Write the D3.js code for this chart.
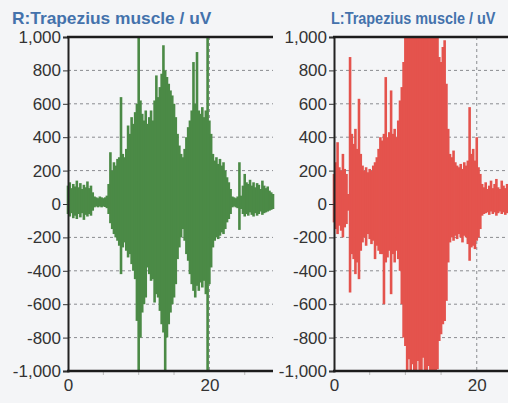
<!DOCTYPE html>
<html><head><meta charset="utf-8">
<script src="https://cdn.jsdelivr.net/npm/d3@7"></script>
<style>
html,body{margin:0;padding:0;background:#f4f5f7;}
svg{display:block;}
text{font-family:"Liberation Sans",Arial,sans-serif;}
</style></head><body><svg id="c" width="508" height="403"></svg>
<script>
// sampling step of the envelope (seconds)
const sampleStep = 0.25;
const timeDomain = [0, 29];
const yDomain = [-1000, 1000];

// R: Trapezius (green) — per-sample max / min (uV)
const greenHi = [110,130,95,120,105,140,100,125,90,115,100,135,95,110,70,45,40,35,45,40,35,40,50,120,
  310,200,250,230,270,280,640,300,280,330,470,420,520,480,550,600,1000,620,540,500,560,480,520,560,500,
  620,770,640,700,780,950,800,760,720,680,650,600,520,420,350,300,280,330,400,460,500,560,850,600,910,
  560,540,580,520,560,1000,500,420,300,260,280,240,270,230,250,200,160,130,90,45,40,35,45,250,50,110,
  180,130,120,145,110,130,100,125,115,90,140,110,95,105,80,70,60];
const greenLo = [-60,-75,-55,-85,-70,-90,-60,-80,-55,-95,-65,-75,-60,-70,-40,-20,-15,-20,-15,-20,-15,-18,-25,-60,
  -115,-150,-180,-200,-220,-250,-420,-260,-230,-280,-320,-300,-360,-400,-450,-700,-1000,-800,-650,-600,-560,-380,-420,-460,-450,
  -590,-540,-560,-640,-720,-770,-1000,-800,-720,-650,-600,-560,-480,-330,-260,-200,-150,-220,-300,-340,-420,-480,-520,-560,-490,
  -520,-470,-500,-460,-540,-1000,-480,-380,-260,-220,-200,-210,-190,-170,-180,-150,-110,-90,-60,-20,-15,-20,-25,-155,-30,-60,
  -75,-60,-70,-50,-65,-75,-55,-70,-60,-45,-65,-55,-50,-45,-40,-35,-30];

// L: Trapezius (red) — per-sample max / min (uV)
const redHi = [180,250,370,220,200,300,210,180,60,880,420,360,450,330,630,300,230,200,220,190,210,200,230,250,
  280,330,400,380,420,760,400,430,680,420,450,400,500,620,700,850,1000,1000,1000,1000,1000,1000,1000,1000,1000,
  1000,1000,1000,1000,1000,1000,1000,1000,1000,1000,880,850,940,980,720,450,300,280,320,250,230,220,240,210,250,
  230,260,580,300,330,260,400,220,180,120,100,130,90,110,140,95,120,150,100,90,140,110,95,120,100];
const redLo = [-110,-150,-180,-130,-160,-200,-140,-120,-40,-530,-300,-330,-420,-350,-450,-280,-230,-200,-250,-180,-210,-240,-220,-330,
  -250,-280,-300,-300,-600,-350,-320,-280,-540,-300,-350,-280,-330,-400,-600,-800,-850,-1000,-930,-1000,-960,-1000,-1000,-940,-1000,
  -1000,-920,-1000,-1000,-970,-1000,-1000,-1000,-1000,-990,-820,-780,-720,-700,-580,-350,-230,-200,-220,-190,-210,-180,-200,-230,-190,
  -200,-240,-340,-260,-250,-270,-220,-200,-150,-70,-60,-55,-50,-65,-45,-60,-50,-70,-55,-45,-60,-50,-65,-55,-50];

const yTicks = [-1000,-800,-600,-400,-200,0,200,400,600,800,1000];
const yGrid = [-800,-600,-400,-200,200,400,600,800];
const xTicks = [0,20];
const xGrid = [20];
const xMinorTicks = [5,10,15,25];
const titles = ["R:Trapezius muscle / uV","L:Trapezius muscle / uV"];

const svg = d3.select("#c");
const plotTop = 37, plotBottom = 371;
const fmt = d => d3.format(",")(d).replace("\u2212","-");

const panels = [
  {x0:68, x1:273, title:titles[0], tx:12, sx:1.02, hi:greenHi, lo:greenLo, color:"#4b8a46"},
  {x0:334, x1:541, title:titles[1], tx:331, sx:0.85, hi:redHi, lo:redLo, color:"#e4534d"}
];

panels.forEach(p => {
  const x = d3.scaleLinear().domain(timeDomain).range([p.x0, p.x1]);
  const y = d3.scaleLinear().domain(yDomain).range([plotBottom, plotTop]);
  const g = svg.append("g");

  // grid
  g.selectAll(".gh").data(yGrid).join("line")
    .attr("x1", p.x0).attr("x2", p.x1).attr("y1", d=>y(d)).attr("y2", d=>y(d))
    .attr("stroke", "#8a8c90").attr("stroke-width", 1).attr("stroke-dasharray", "3,3");
  g.selectAll(".gv").data(xGrid).join("line")
    .attr("x1", d=>x(d)).attr("x2", d=>x(d)).attr("y1", plotTop).attr("y2", plotBottom)
    .attr("stroke", "#8a8c90").attr("stroke-width", 1).attr("stroke-dasharray", "3,3");

  // signal
  const data = p.hi.map((h,i) => ({t: i*sampleStep, hi: h, lo: p.lo[i]}));
  g.selectAll(".s").data(data).join("line")
    .attr("x1", d=>x(d.t)).attr("x2", d=>x(d.t))
    .attr("y1", d=>y(d.lo)).attr("y2", d=>y(d.hi))
    .attr("stroke", p.color).attr("stroke-width", 2.6);

  // y axis
  const ya = g.append("g").attr("transform", `translate(${p.x0},0)`)
    .call(d3.axisLeft(y).tickValues(yTicks).tickFormat(fmt).tickSize(5).tickPadding(2));
  ya.select(".domain").attr("stroke", "#222").attr("stroke-width", 2);
  ya.selectAll(".tick line").attr("stroke", "#333");
  ya.selectAll(".tick text").attr("fill", "#333").style("font-size", "17px")
    .style("font-family", '"Liberation Sans",Arial,sans-serif');

  // x axis
  const xa = g.append("g").attr("transform", `translate(0,${plotBottom})`)
    .call(d3.axisBottom(x).tickValues(xTicks).tickFormat(d3.format("d")).tickSize(0).tickPadding(8));
  xa.select(".domain").remove();
  xa.selectAll(".tick text").attr("fill", "#333").style("font-size", "17px")
    .style("font-family", '"Liberation Sans",Arial,sans-serif');
  g.selectAll(".mt").data(xMinorTicks).join("line")
    .attr("x1", d=>x(d)).attr("x2", d=>x(d)).attr("y1", plotBottom+1).attr("y2", plotBottom+4)
    .attr("stroke", "#bbb").attr("stroke-width", 1);

  // top & bottom borders
  [plotTop, plotBottom].forEach(yy => g.append("line")
    .attr("x1", p.x0-1).attr("x2", p.x1).attr("y1", yy).attr("y2", yy)
    .attr("stroke", "#1c1c1c").attr("stroke-width", 2.5));

  // title
  svg.append("text").attr("transform", `translate(${p.tx},24) scale(${p.sx},1)`)
    .attr("fill", "#4472ac").style("font-size", "17px").style("font-weight", "bold")
    .text(p.title);
});
</script></body></html>
